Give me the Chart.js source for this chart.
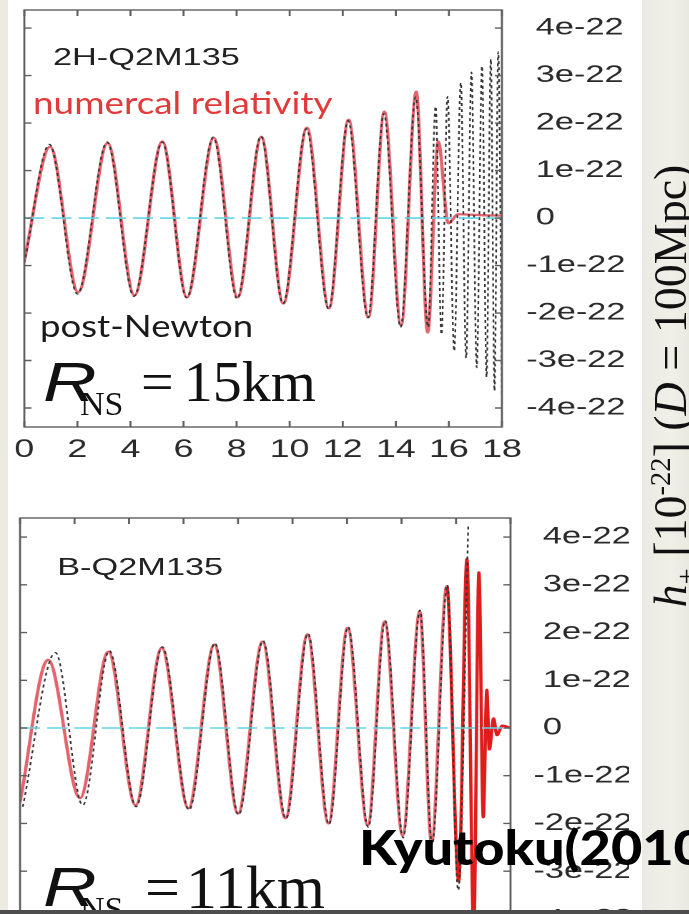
<!DOCTYPE html>
<html>
<head>
<meta charset="utf-8">
<script src="https://cdn.jsdelivr.net/npm/chart.js@4.4.0/dist/chart.umd.min.js"></script>
<style>
  html, body { margin: 0; padding: 0; width: 689px; height: 914px; overflow: hidden; background: #fff; }
  #stretch { position: absolute; left: 0; top: 0; width: 482px; height: 914px; transform: scaleX(1.43); transform-origin: 0 0; }
  #topBox { position: absolute; left: 0; top: 0; width: 440px; height: 480px; }
  #botBox { position: absolute; left: 0; top: 490px; width: 440px; height: 470px; }
  .lab { position: absolute; white-space: nowrap; line-height: 1; transform-origin: 0 0; }
  .model { font: 24px 'Liberation Sans', Arial, sans-serif; color: #222; }
  .note { font: 31px Lato, sans-serif; }
  .rsym { font: italic 55px 'Liberation Sans', Arial, sans-serif; color: #111; transform: scaleX(1.35); }
  .rsub { font: 34px 'Liberation Serif', serif; color: #111; }
  .rval { font: 58px 'Liberation Serif', serif; color: #111; }
  #leftStrip { position: absolute; left: 0; top: 0; width: 8px; height: 914px; background: #ecebe2; }
  #rightStrip { position: absolute; left: 642px; top: 0; width: 47px; height: 910px; background: linear-gradient(90deg, #eaeae2, #f0f0e9 60%, #e9e9e0); }
  #ylab { position: absolute; left: 671px; top: 386px; transform: translate(-50%, -50%) rotate(-90deg); white-space: nowrap; font: 46px 'Liberation Serif', serif; line-height: 46px; color: #111; }
  #ylab sub, #ylab sup { font-size: 0.62em; line-height: 0; }
  #cite { position: absolute; left: 359px; top: 824px; font: 900 47px Lato, sans-serif; line-height: 1; color: #000; white-space: nowrap; transform: scaleX(1.15); transform-origin: 0 0; }
  #bottomBar { position: absolute; left: 0; top: 910px; width: 689px; height: 4px; background: #4d4d4d; }
</style>
</head>
<body>
<div id="leftStrip"></div>
<div id="stretch">
  <div id="topBox"><canvas id="topChart"></canvas></div>
  <div id="botBox"><canvas id="botChart"></canvas></div>
  <div class="lab model" style="left:37px; top:43px;">2H-Q2M135</div>
  <div class="lab model" style="left:40px; top:553px;">B-Q2M135</div>
</div>

<div class="lab note" style="left:33px; top:83px; color:#e03a3a; transform:scaleX(1.19);">numercal relativity</div>
<div class="lab note" style="left:40px; top:306px; color:#1a1a1a; transform:scaleX(1.18);">post-Newton</div>

<div class="lab rsym" style="left:43px; top:350px;">R</div>
<div class="lab rsub" style="left:80px; top:385px;">NS</div>
<div class="lab rval" style="left:141px; top:348px;"><span style="margin-right:10px">=</span>15km</div>

<div class="lab rsym" style="left:43px; top:855px;">R</div>
<div class="lab rsub" style="left:80px; top:890px;">NS</div>
<div class="lab rval" style="left:145px; top:852px; font-size:62px;"><span style="margin-right:6px">=</span>11km</div>

<div id="rightStrip"></div>
<div id="ylab"><i>h</i><sub>+</sub> [10<sup>-22</sup>] (<i>D</i> = 100Mpc)</div>
<div id="cite">Kyutoku(2010)</div>
<div id="bottomBar"></div>

<script>
// axis ticks (strain in units of 1e-22, time in ms)
const xTicks = [0, 2, 4, 6, 8, 10, 12, 14, 16, 18];
const yTicks = [-4, -3, -2, -1, 0, 1, 2, 3, 4];
// positive labels get a leading space so the digits line up past the minus sign
const yTickText = ['-4e-22', '-3e-22', '-2e-22', '-1e-22', ' 0', ' 1e-22', ' 2e-22', ' 3e-22', ' 4e-22'];

// 2H-Q2M135, numerical relativity (peaks and troughs)
const topNrTime = [0, 0.97, 2.03, 3.14, 4.15, 5.2, 6.13, 7.14, 8.04, 8.93, 9.76, 10.65, 11.48, 12.22, 12.97, 13.57, 14.2, 14.77, 15.2, 15.6, 15.98, 16.35, 17.2, 18];
const topNr = [-0.9, 1.5, -1.56, 1.58, -1.63, 1.61, -1.67, 1.69, -1.67, 1.71, -1.8, 1.9, -1.9, 2.07, -2.09, 2.24, -2.26, 2.66, -2.41, 1.61, -0.11, 0.08, 0.06, 0.05];

// 2H-Q2M135, post-Newton
const topPnTime = [0, 0.95, 2.0, 3.12, 4.13, 5.2, 6.12, 7.12, 8.02, 8.92, 9.75, 10.63, 11.47, 12.2, 12.95, 13.55, 14.18, 14.75, 15.22, 15.5, 15.72, 15.95, 16.2, 16.45, 16.65, 16.85, 17.05, 17.25, 17.42, 17.58, 17.72, 17.86, 18.0];
const topPn = [-0.95, 1.55, -1.6, 1.6, -1.65, 1.6, -1.68, 1.7, -1.7, 1.72, -1.8, 1.88, -1.92, 2.05, -2.1, 2.2, -2.3, 2.55, -2.3, 2.35, -2.45, 2.56, -2.8, 2.85, -2.95, 3.07, -3.15, 3.2, -3.35, 3.35, -3.64, 3.5, -3.7];

// B-Q2M135, numerical relativity
const botNrTime = [0, 1.03, 2.2, 3.24, 4.24, 5.2, 6.18, 7.13, 8.0, 8.9, 9.74, 10.55, 11.32, 12.02, 12.76, 13.38, 14.04, 14.67, 15.1, 15.66, 16.1, 16.4, 16.65, 16.84, 17.0, 17.13, 17.22, 17.38, 17.5, 17.7, 18];
const botNr = [-1.56, 1.43, -1.47, 1.6, -1.62, 1.68, -1.68, 1.75, -1.79, 1.81, -1.89, 1.96, -2.0, 2.1, -2.04, 2.23, -2.25, 2.44, -2.4, 2.97, -3.2, 3.54, -4.2, 3.26, -1.87, 0.8, -0.45, 0.2, -0.15, 0.05, 0];

// B-Q2M135, post-Newton
const botPnTime = [0.1, 1.3, 2.3, 3.28, 4.26, 5.22, 6.2, 7.15, 8.02, 8.92, 9.76, 10.57, 11.34, 12.04, 12.78, 13.4, 14.06, 14.68, 15.12, 15.68, 16.08, 16.45];
const botPn = [-1.65, 1.58, -1.62, 1.62, -1.65, 1.7, -1.72, 1.78, -1.82, 1.83, -1.9, 1.98, -2.02, 2.12, -2.08, 2.25, -2.3, 2.47, -2.45, 3.0, -3.4, 4.27];

// zero reference line
const zeroTime = [0, 18];
const zeroLevel = [0, 0];

Chart.defaults.font.family = "'Liberation Sans', Arial, sans-serif";
Chart.defaults.color = '#2a2a2a';

const toPoints = (xs, ys) => xs.map((x, i) => ({ x: x, y: ys[i] }));

// box around the plot with inward ticks on all four sides
const framePlugin = {
  id: 'frame',
  afterDatasetsDraw(chart) {
    const { ctx, chartArea: a, scales } = chart;
    ctx.save();
    ctx.strokeStyle = '#5e5e5e';
    ctx.lineWidth = 1.4;
    ctx.strokeRect(a.left, a.top, a.width, a.height);
    ctx.beginPath();
    xTicks.forEach(v => {
      const px = scales.x.getPixelForValue(v);
      ctx.moveTo(px, a.top); ctx.lineTo(px, a.top + 6);
      ctx.moveTo(px, a.bottom); ctx.lineTo(px, a.bottom - 6);
    });
    yTicks.forEach(v => {
      const py = scales.y.getPixelForValue(v);
      ctx.moveTo(a.left, py); ctx.lineTo(a.left + 5, py);
      ctx.moveTo(a.right, py); ctx.lineTo(a.right - 5, py);
    });
    ctx.stroke();
    ctx.restore();
  }
};

function makeChart(id, nr, pn, opt) {
  const data = {
    datasets: [
      {
        label: 'zero',
        data: toPoints(zeroTime, zeroLevel),
        borderColor: '#62d5e6',
        borderWidth: 1.6,
        borderDash: [14, 5],
        order: 0
      },
      {
        label: 'post-Newton',
        data: pn,
        borderColor: '#333',
        borderWidth: 1.2,
        borderDash: [3, 3],
        cubicInterpolationMode: 'monotone',
        order: 1
      },
      {
        label: 'numerical relativity',
        data: nr,
        borderColor: '#e3646d',
        borderWidth: 2.3,
        cubicInterpolationMode: 'monotone',
        segment: {
          borderColor: c => (opt.hotFrom !== null && c.p0.parsed.x >= opt.hotFrom) ? '#e01c1c' : undefined
        },
        order: 2
      }
    ]
  };

  const config = {
    type: 'line',
    data: data,
    options: {
      animation: false,
      responsive: true,
      maintainAspectRatio: false,
      devicePixelRatio: 2,
      elements: { point: { radius: 0 } },
      layout: { padding: opt.padding },
      plugins: { legend: { display: false }, tooltip: { enabled: false } },
      scales: {
        x: {
          type: 'linear',
          min: 0,
          max: 18,
          display: opt.showX,
          grid: { display: false, drawTicks: false },
          border: { display: false },
          afterBuildTicks: s => { s.ticks = xTicks.map(v => ({ value: v })); },
          afterFit: s => { s.height = opt.xHeight; s.paddingLeft = 0; s.paddingRight = 0; },
          ticks: { font: { size: 25 }, padding: 8, maxRotation: 0, autoSkip: false }
        },
        y: {
          type: 'linear',
          position: 'right',
          min: opt.yMin,
          max: opt.yMax,
          grid: { display: false, drawTicks: false },
          border: { display: false },
          afterBuildTicks: s => { s.ticks = yTicks.map(v => ({ value: v })); },
          afterFit: s => { s.width = opt.yWidth; s.paddingTop = 0; s.paddingBottom = 0; },
          ticks: {
            font: { size: 24 },
            padding: opt.yPad,
            autoSkip: false,
            callback: v => yTickText[yTicks.indexOf(v)]
          }
        }
      }
    },
    plugins: [framePlugin]
  };

  return new Chart(document.getElementById(id), config);
}

const topChart = makeChart('topChart', toPoints(topNrTime, topNr), toPoints(topPnTime, topPn), {
  padding: { left: 17, top: 10, right: 0, bottom: 0 },
  showX: true, xHeight: 53, yWidth: 89, yPad: 17,
  yMin: -4.4, yMax: 4.38, hotFrom: null
});

const botChart = makeChart('botChart', toPoints(botNrTime, botNr), toPoints(botPnTime, botPn), {
  padding: { left: 14, top: 28, right: 0, bottom: 22 },
  showX: false, xHeight: 0, yWidth: 83, yPad: 16,
  yMin: -4.4, yMax: 4.4, hotFrom: 15.6
});
</script>
</body>
</html>
